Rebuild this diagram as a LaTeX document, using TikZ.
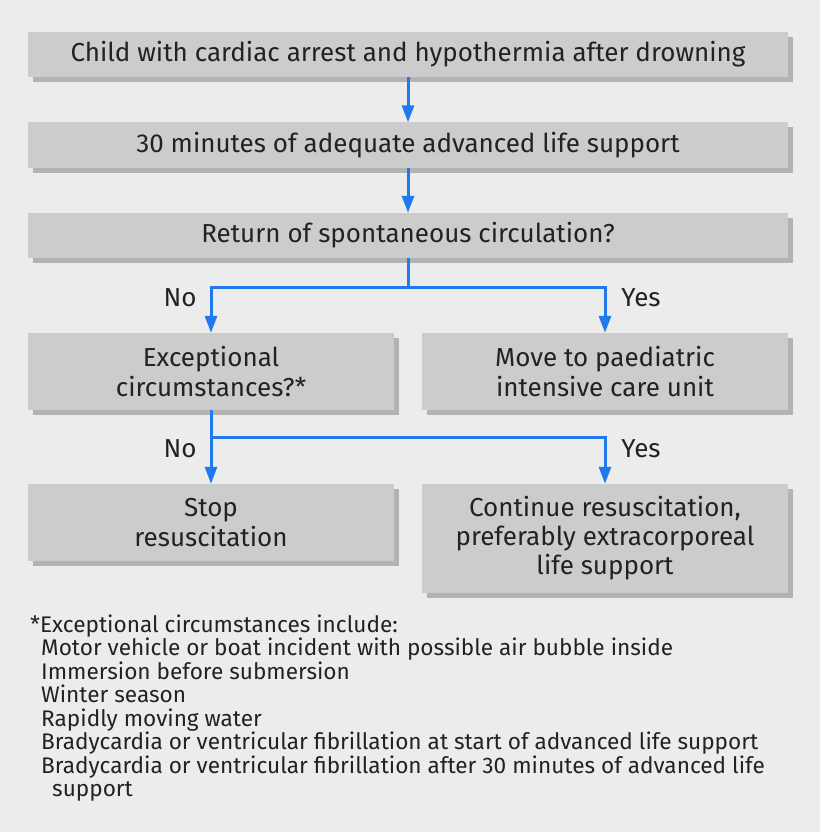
\documentclass[tikz,border=0pt]{standalone}
\usepackage{fontspec}
\setmainfont{Fira Sans}
\usetikzlibrary{arrows.meta,shadows}
\definecolor{bgc}{HTML}{ECECEC}
\definecolor{boxc}{HTML}{CCCCCC}
\definecolor{shc}{HTML}{B3B3B3}
\definecolor{arc}{HTML}{2179F0}
\definecolor{txc}{HTML}{222222}
\begin{document}
\begin{tikzpicture}[x=1pt,y=-1pt,
  flowbox/.style={fill=boxc, inner sep=0pt, align=center, text=txc,
    font=\fontsize{26}{30.5}\selectfont,
    drop shadow={shadow xshift=5pt, shadow yshift=-5pt, fill=shc, opacity=1}},
  arr/.style={draw=arc, line width=3pt, -{Triangle[width=12pt,length=17pt]}},
  ln/.style={draw=arc, line width=3pt},
  lbl/.style={text=txc, font=\fontsize{26}{30}\selectfont, inner sep=0pt},
  foot/.style={text=txc, font=\fontsize{22.6}{24}\selectfont, inner sep=0pt, anchor=base west}]
\fill[bgc] (0,0) rectangle (820,832);
\useasboundingbox (0,0) rectangle (820,832);

\node[flowbox, minimum width=760pt, minimum height=45pt] (b1) at (408,54.5) {Child with cardiac arrest and hypothermia after drowning};
\node[flowbox, minimum width=760pt, minimum height=45pt] (b2) at (408,145) {30 minutes of adequate advanced life support};
\node[flowbox, minimum width=760pt, minimum height=45pt] (b3) at (408,235.5) {Return of spontaneous circulation?};
\node[flowbox, minimum width=366pt, minimum height=77pt] (b4) at (211,371.5) {Exceptional\\circumstances?*};
\node[flowbox, minimum width=366pt, minimum height=77pt] (b5) at (605,371.5) {Move to paediatric\\intensive care unit};
\node[flowbox, minimum width=366pt, minimum height=77pt] (b6) at (211,522.5) {Stop\\resuscitation};
\node[flowbox, minimum width=366pt, minimum height=109pt, font=\fontsize{26}{29}\selectfont] (b7) at (605,538.5) {Continue resuscitation,\\preferably extracorporeal\\life support};

\coordinate (j1) at (408,287);
\coordinate (j2) at (211,437);

\draw[arr] (b1.south) -- (b2.north);
\draw[arr] (b2.south) -- (b3.north);
\draw[ln] (b3.south) -- (j1);
\draw[arr] (j1) -| (b4.north);
\draw[arr] (j1) -| (b5.north);
\draw[arr] (b4.south) -- (b6.north);
\draw[arr] (j2) -| (b7.north);

\node[lbl] (n1) at (180,298) {No};
\node[lbl] (y1) at (641,298) {Yes};
\node[lbl] (n2) at (180,449) {No};
\node[lbl] (y2) at (641,449) {Yes};

\node[foot] (f0) at (30,632) {*Exceptional circumstances include:};
\node[foot] (f1) at (41,655.5) {Motor vehicle or boat incident with possible air bubble inside};
\node[foot] (f2) at (41,679) {Immersion before submersion};
\node[foot] (f3) at (41,702.5) {Winter season};
\node[foot] (f4) at (41,726) {Rapidly moving water};
\node[foot] (f5) at (41,749.5) {Bradycardia or ventricular fibrillation at start of advanced life support};
\node[foot] (f6) at (41,773) {Bradycardia or ventricular fibrillation after 30 minutes of advanced life};
\node[foot] (f7) at (52,796.5) {support};
\end{tikzpicture}
\end{document}
